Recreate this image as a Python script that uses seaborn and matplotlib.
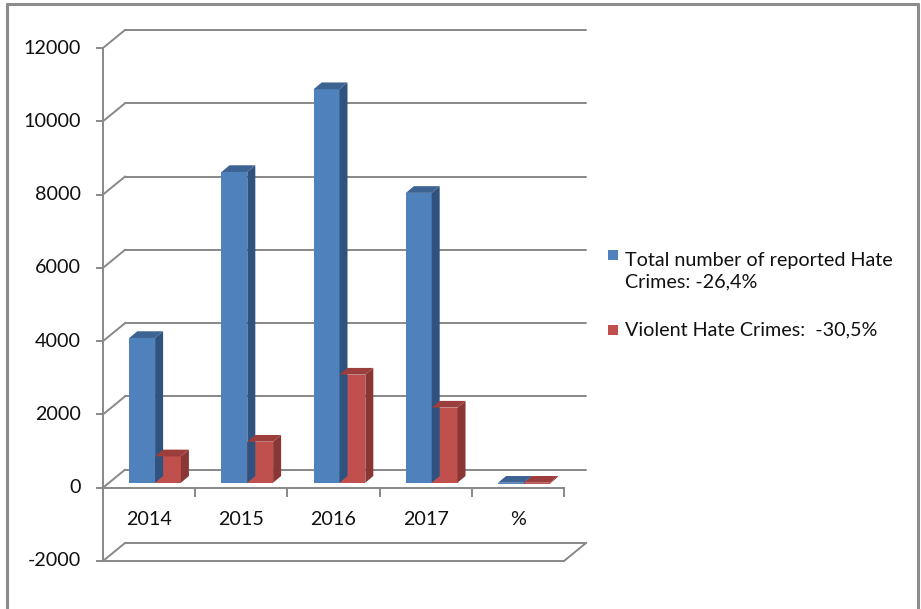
import pandas as pd
import matplotlib
matplotlib.use("Agg")
import matplotlib.pyplot as plt
from matplotlib.patches import Polygon, Rectangle
from matplotlib.lines import Line2D
from matplotlib.transforms import offset_copy, IdentityTransform
import seaborn as sns

# ---- data ----
categories = ["2014", "2015", "2016", "2017", "%"]
series_names = ["Total number of reported Hate\nCrimes: -26,4%",
                "Violent Hate Crimes:  -30,5%"]
total_crimes = [3950, 8480, 10740, 7910, -26.4]
violent_crimes = [720, 1120, 2950, 2050, -30.5]
y_ticks = [-2000, 0, 2000, 4000, 6000, 8000, 10000, 12000]

# ---- style ----
front_colors = ["#4F81BD", "#C0504D"]
side_colors = ["#30527F", "#8A3634"]
top_colors = ["#3D6393", "#9C3E3B"]
grid_color = "#888888"
text_color = "#111111"

sns.set_style("white")
plt.rcParams["font.family"] = ["Lato", "DejaVu Sans"]
FS = 14.2

W, H = 921, 609
fig = plt.figure(figsize=(W / 100, H / 100), dpi=100)
fig.patch.set_facecolor("white")

# front plane of the 3-D box
ax = fig.add_axes([103 / W, 1 - 561 / H, (564 - 103) / W, (561 - 48) / H])

df = pd.DataFrame({
    "year": categories * 2,
    "count": total_crimes + violent_crimes,
    "series": [series_names[0]] * len(categories) + [series_names[1]] * len(categories),
})

sns.barplot(data=df, x="year", y="count", hue="series", hue_order=series_names,
            palette=front_colors, width=0.56, saturation=1, legend=False,
            linewidth=0, ax=ax)
ax.set_xlim(-0.5, len(categories) - 0.5)
ax.set_ylim(y_ticks[0], y_ticks[-1])
ax.set_autoscale_on(False)
ax.axis("off")

# perspective offsets in pixels
WALL_DX, WALL_DY = 22, 18      # depth of the whole box
SHIFT_DX, SHIFT_DY = 6, 5      # bars sit a little behind the front plane
DEPTH_DX, DEPTH_DY = 8, 6.7    # depth of each bar

back = offset_copy(ax.transData, fig, WALL_DX, WALL_DY, units="dots")
bar_trans = offset_copy(ax.transData, fig, SHIFT_DX, SHIFT_DY, units="dots")
ident = IdentityTransform()
LW = 1.4


def disp(x, y):
    return ax.transData.transform((x, y))


def seg(p0, p1, **kw):
    line = Line2D([p0[0], p1[0]], [p0[1], p1[1]], transform=ident,
                  color=grid_color, lw=LW, zorder=1, solid_capstyle="projecting", **kw)
    fig.add_artist(line)


x0, x1 = -0.5, len(categories) - 0.5

# back-wall gridlines, left slants, ticks and labels
for v in y_ticks:
    ax.plot([x0, x1], [v, v], transform=back, color=grid_color, lw=LW,
            zorder=1, clip_on=False)
    p = disp(x0, v)
    seg(p, (p[0] + WALL_DX, p[1] + WALL_DY))
    seg((p[0] - 6, p[1]), p)
    ax.text(x0, v, str(v), transform=offset_copy(ax.transData, fig, -22, 0, units="dots"),
            ha="right", va="center", fontsize=FS, color=text_color)

# floor at the bottom of the box
ax.plot([x0, x1], [y_ticks[0], y_ticks[0]], color=grid_color, lw=LW, zorder=1, clip_on=False)
pr = disp(x1, y_ticks[0])
seg(pr, (pr[0] + WALL_DX, pr[1] + WALL_DY))

# front vertical axis
ax.plot([x0, x0], [y_ticks[0], y_ticks[-1]], color=grid_color, lw=LW, zorder=1, clip_on=False)

# category axis at zero with tick marks between categories
ax.plot([x0, x1], [0, 0], color=grid_color, lw=LW, zorder=1, clip_on=False)
for i in range(len(categories)):
    p = disp(i + 0.5, 0)
    seg(p, (p[0], p[1] - 8))
    ax.text(i, 0, categories[i], transform=offset_copy(ax.transData, fig, 0, -32, units="dots"),
            ha="center", va="center", fontsize=FS, color=text_color)

# give the bars depth: side and top faces
n = len(categories)
for k, patch in enumerate(ax.patches[:2 * n]):
    j = k // n            # series index
    xl = patch.get_x()
    w = patch.get_width()
    h = patch.get_height()
    yb = patch.get_y()
    lo, hi = min(yb, yb + h), max(yb, yb + h)
    patch.set_transform(bar_trans)
    patch.set_zorder(3 + j * 0.3)
    patch.set_clip_on(False)
    bl = bar_trans.transform((xl, lo))
    br = bar_trans.transform((xl + w, lo))
    tl = bar_trans.transform((xl, hi))
    tr = bar_trans.transform((xl + w, hi))
    side = Polygon([br, tr, (tr[0] + DEPTH_DX, tr[1] + DEPTH_DY),
                    (br[0] + DEPTH_DX, br[1] + DEPTH_DY)], closed=True,
                   transform=ident, facecolor=side_colors[j], edgecolor="none",
                   zorder=3.1 + j * 0.3)
    top = Polygon([tl, tr, (tr[0] + DEPTH_DX, tr[1] + DEPTH_DY),
                   (tl[0] + DEPTH_DX, tl[1] + DEPTH_DY)], closed=True,
                  transform=ident, facecolor=top_colors[j], edgecolor="none",
                  zorder=3.2 + j * 0.3)
    fig.add_artist(side)
    fig.add_artist(top)

# legend
legend_y = [271, 330]
square_y = [255, 330]
for j, name in enumerate(series_names):
    fig.add_artist(Rectangle(((608) / W, 1 - (square_y[j] + 5) / H), 10 / W, 10 / H,
                             transform=fig.transFigure, facecolor=front_colors[j],
                             edgecolor="none"))
    fig.text(625 / W, 1 - legend_y[j] / H, name, ha="left", va="center",
             fontsize=FS, color=text_color, linespacing=1.3)

# outer chart frame
frame_kw = dict(transform=ident, color="#8C8C8C", lw=2.2)
fig.add_artist(Line2D([7, 7], [0, H - 4], **frame_kw))
fig.add_artist(Line2D([7, 918], [H - 4, H - 4], **frame_kw))
fig.add_artist(Line2D([918, 918], [0, H - 4], **frame_kw))

fig.savefig("out.png", dpi=100)
